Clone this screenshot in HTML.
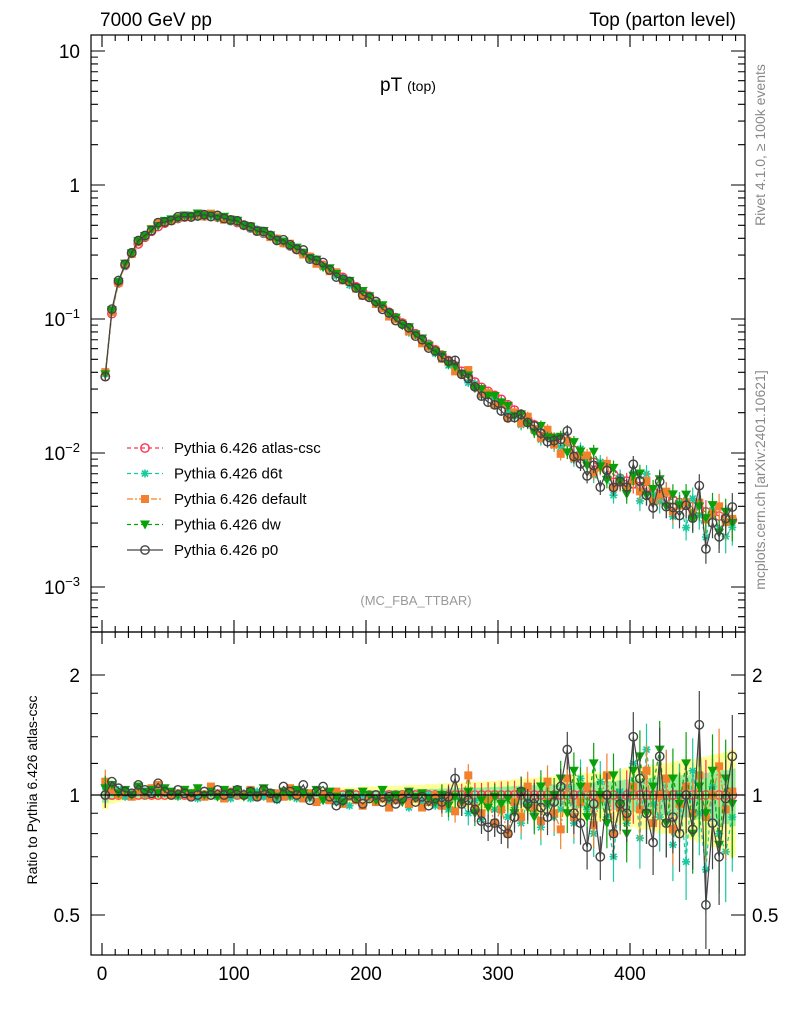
<!DOCTYPE html>
<html><head><meta charset="utf-8">
<style>
body{margin:0;background:#fff;}
svg{display:block;font-family:"Liberation Sans",sans-serif;}
</style></head>
<body>
<svg id="chart" width="786" height="1024" viewBox="0 0 786 1024" xmlns="http://www.w3.org/2000/svg">
<rect x="0" y="0" width="786" height="1024" fill="#fff"/>
<g id="ratioBands"></g>
<g id="series"></g>
<g id="axes"></g>
<text x="100" y="26" font-size="19">7000 GeV pp</text>
<text x="736" y="26" font-size="19" text-anchor="end">Top (parton level)</text>
<text x="380" y="91" font-size="19">pT <tspan font-size="14">(top)</tspan></text>
<text x="416" y="605" font-size="13" fill="#999" text-anchor="middle">(MC_FBA_TTBAR)</text>
<text transform="translate(765,145) rotate(-90)" font-size="14" fill="#888" text-anchor="middle">Rivet 4.1.0, ≥ 100k events</text>
<text transform="translate(765,480) rotate(-90)" font-size="14" fill="#888" text-anchor="middle">mcplots.cern.ch [arXiv:2401.10621]</text>
<text transform="translate(37,790) rotate(-90)" font-size="14" text-anchor="middle">Ratio to Pythia 6.426 atlas-csc</text>
<g id="legend"></g>
</svg>
<script>
const binCenters = [];
for (let i = 0; i < 96; i++) binCenters.push(2.5 + 5 * i);
const refLog = [-1.43,-0.96,-0.73,-0.60,-0.51,-0.44,-0.39,-0.345,-0.31,-0.285,
-0.265,-0.25,-0.24,-0.235,-0.23,-0.23,-0.235,-0.24,-0.25,-0.265,
-0.28,-0.30,-0.32,-0.34,-0.36,-0.38,-0.405,-0.43,-0.455,-0.48,
-0.51,-0.54,-0.57,-0.60,-0.63,-0.66,-0.69,-0.72,-0.76,-0.80,
-0.83,-0.87,-0.91,-0.95,-0.99,-1.03,-1.07,-1.11,-1.15,-1.19,
-1.23,-1.27,-1.31,-1.35,-1.39,-1.43,-1.47,-1.51,-1.54,-1.57,
-1.60,-1.64,-1.68,-1.72,-1.75,-1.79,-1.82,-1.86,-1.89,-1.92,
-1.95,-1.98,-2.01,-2.04,-2.07,-2.10,-2.13,-2.16,-2.19,-2.21,
-2.23,-2.25,-2.27,-2.29,-2.31,-2.33,-2.35,-2.37,-2.39,-2.40,
-2.42,-2.44,-2.45,-2.47,-2.48,-2.50];
const ratioD6t = [1.05,1.02,1.03,0.99,1.01,1.03,1.00,1.02,1.04,1.01,
1.00,0.99,1.02,1.01,0.98,1.00,1.01,0.99,1.02,0.98,
1.00,1.01,0.98,1.02,0.99,1.00,0.97,1.01,0.99,0.98,
1.00,0.98,1.02,0.97,1.00,0.96,0.99,0.94,0.97,1.00,
0.98,0.96,1.00,0.95,0.97,0.99,0.93,0.98,0.96,1.00,
0.94,0.97,0.92,0.99,0.95,0.90,0.97,0.87,0.95,0.92,
0.96,0.88,0.93,0.85,0.97,0.90,0.83,0.95,0.88,0.92,
1.05,0.85,1.10,0.92,0.80,1.08,0.88,0.70,1.02,0.85,
1.20,0.78,1.30,0.95,0.88,1.10,0.75,1.00,0.68,1.15,
0.90,0.65,1.05,0.80,0.72,0.88];
const ratioDefault = [1.08,1.03,1.00,1.02,0.99,1.03,1.01,1.04,1.06,1.02,
1.00,1.01,1.03,1.00,1.02,0.99,1.05,1.01,0.98,1.02,
1.01,1.00,1.03,0.99,1.02,0.98,1.01,0.99,1.04,1.00,
0.98,1.01,0.96,1.00,0.97,1.02,0.95,0.99,0.97,0.94,
0.99,0.96,0.98,0.93,0.97,1.00,0.95,0.98,0.93,0.96,
1.00,0.94,0.98,0.91,0.96,1.12,0.93,0.90,0.97,0.85,
0.92,0.80,0.96,0.88,1.05,0.93,0.86,1.08,0.90,0.82,
1.10,0.88,0.96,1.05,0.84,0.98,1.12,0.80,0.93,0.88,
1.05,0.92,1.15,0.85,1.00,1.10,0.82,0.95,1.05,0.90,
1.12,0.88,1.00,1.18,0.92,1.02];
const ratioDw = [1.04,1.06,1.01,1.03,1.00,1.05,1.02,1.03,1.01,1.04,
1.02,1.00,1.03,1.01,1.04,1.00,1.02,0.99,1.03,1.01,
1.03,0.99,1.02,1.00,1.04,1.01,0.99,1.02,1.00,1.03,
1.01,0.99,1.03,0.97,1.02,0.99,0.96,1.01,0.98,1.02,
1.00,0.97,1.03,0.98,1.00,0.96,1.02,0.99,1.01,0.98,
0.96,1.00,0.94,0.99,0.96,1.02,0.90,0.97,0.93,0.99,
0.95,0.98,0.90,1.02,0.93,0.88,1.05,0.95,1.00,1.10,
0.90,1.15,1.05,0.88,1.20,1.00,0.85,1.12,0.95,0.80,
1.15,1.25,0.90,1.05,1.30,0.85,1.10,0.95,1.20,0.80,
1.05,0.90,1.15,0.75,1.10,0.95];
const ratioP0 = [1.00,1.08,1.04,1.02,1.01,1.06,1.03,1.01,1.07,1.02,
1.00,1.03,1.01,0.99,1.00,1.02,1.00,1.03,1.00,1.01,
1.03,1.00,1.02,0.99,1.03,1.01,0.98,1.05,1.02,1.00,
1.06,0.97,1.02,1.05,0.99,0.94,0.97,1.00,0.98,0.95,
0.98,1.00,0.96,0.99,0.95,0.98,1.01,0.96,0.99,0.94,
0.98,0.96,0.99,1.10,0.95,0.97,0.92,0.86,0.83,0.85,
0.82,0.80,0.88,1.02,0.95,0.98,0.93,0.88,0.96,1.05,
1.30,0.90,0.85,0.74,0.95,0.70,1.00,0.80,0.95,0.90,
1.40,1.10,0.90,0.76,1.25,0.85,0.88,0.80,1.00,0.82,
1.50,0.53,0.85,0.70,0.98,1.25];
const bandHalf = [.08,.05,.04,.03,.03,.03,.03,.03,.03,.03,
.03,.03,.03,.03,.03,.03,.03,.03,.03,.03,
.03,.03,.03,.03,.03,.03,.03,.03,.035,.035,
.035,.035,.04,.04,.04,.04,.045,.045,.045,.05,
.05,.05,.05,.055,.055,.055,.06,.06,.06,.065,
.065,.07,.07,.07,.075,.075,.08,.08,.085,.085,
.09,.09,.095,.10,.10,.105,.11,.11,.115,.12,
.12,.125,.13,.135,.14,.14,.15,.15,.16,.17,
.17,.18,.18,.19,.20,.20,.21,.22,.22,.23,
.24,.25,.26,.27,.28,.30];
const xTicks = [0,100,200,300,400];
const mainTickExps = [1,0,-1,-2,-3];
const ratioTicks = [0.5,1,2];

const NS = "http://www.w3.org/2000/svg";
const L = 91, R = 745, MT = 35, MB = 632, RB = 955;
const xs = v => 102 + 1.32 * v;
const ym = lg => 185 - 134 * lg;
const yr = r => Math.min(RB, Math.max(MB, 795 - 120 * Math.log2(r)));
function mk(tag, attrs, parent) { const e = document.createElementNS(NS, tag); for (const k in attrs) e.setAttribute(k, attrs[k]); parent.appendChild(e); return e; }

const series = [
  {name:"Pythia 6.426 atlas-csc", key:"atlas-csc", color:"#ff3355", marker:"ocircle", dash:"4,3", ratio:null},
  {name:"Pythia 6.426 d6t", key:"d6t", color:"#19c9a0", marker:"star", dash:"4,3", ratio:ratioD6t},
  {name:"Pythia 6.426 default", key:"default", color:"#f3802c", marker:"square", dash:"6,2,2,2", ratio:ratioDefault},
  {name:"Pythia 6.426 dw", key:"dw", color:"#0aa00a", marker:"tri", dash:"4,3", ratio:ratioDw},
  {name:"Pythia 6.426 p0", key:"p0", color:"#444444", marker:"ocircle", dash:"", ratio:ratioP0}
];

function marker(g, type, x, y, c) {
  let e;
  if (type === "ocircle") e = mk("circle", {cx:x, cy:y, r:4.2, fill:"none", stroke:c, "stroke-width":1.4}, g);
  else if (type === "square") e = mk("rect", {x:x-4, y:y-4, width:8, height:8, fill:c}, g);
  else if (type === "tri") e = mk("path", {d:`M${x-5},${y-4}L${x+5},${y-4}L${x},${y+5}Z`, fill:c}, g);
  else { e = mk("path", {d:`M${x-4},${y}H${x+4}M${x},${y-4}V${y+4}M${x-3},${y-3}L${x+3},${y+3}M${x-3},${y+3}L${x+3},${y-3}`, stroke:c, "stroke-width":1.6}, g); }
  
  
}

// ratio bands
const bands = document.getElementById('ratioBands');
let yp = "", gp = "", yb = "", gb = "";
binCenters.forEach((c, i) => {
  const x0 = xs(c - 2.5), x1 = xs(c + 2.5), h = bandHalf[i];
  yp += `M${x0},${yr(1+h)}H${x1}V${yr(1-h)}H${x0}Z`;
  gp += `M${x0},${yr(1+h*0.55)}H${x1}V${yr(1-h*0.55)}H${x0}Z`;
});
const yBand = mk("path", {d:yp, fill:"#ffff99"}, bands);


const gBand = mk("path", {d:gp, fill:"#99ee99"}, bands);



// series
const sg = document.getElementById('series');
series.forEach(s => {
  const g = mk("g", {}, sg);
  
  
  const ptsM = [], ptsR = [];
  binCenters.forEach((c, i) => {
    const r = s.ratio ? s.ratio[i] : 1;
    const lg = refLog[i] + Math.log10(r);
    ptsM.push([xs(c), ym(lg)]);
    ptsR.push([xs(c), yr(r)]);
  });
  const lineM = mk("polyline", {points:ptsM.map(p=>p.join(",")).join(" "), fill:"none", stroke:s.color, "stroke-width":1.2, "stroke-dasharray":s.dash}, g);
  
  
  const lineR = mk("polyline", {points:ptsR.map(p=>p.join(",")).join(" "), fill:"none", stroke:s.color, "stroke-width":1.2, "stroke-dasharray":s.dash}, g);
  
  
  binCenters.forEach((c, i) => {
    const r = s.ratio ? s.ratio[i] : 1;
    const e = bandHalf[i] * 0.9;
    const x = xs(c);
    if (e > 0.06) {
      const eb = mk("path", {d:`M${x},${ym(refLog[i]+Math.log10(r*(1+e)))}V${ym(refLog[i]+Math.log10(r*(1-e)))}M${x},${yr(r*(1+e))}V${yr(r*(1-e))}`, stroke:s.color, "stroke-width":1.2}, g);
      
      
    }
    marker(g, s.marker, ptsM[i][0], ptsM[i][1], s.color);
    marker(g, s.marker, ptsR[i][0], ptsR[i][1], s.color);
  });
});

// axes
const ax = document.getElementById('axes');
const f1 = mk("rect", {x:L, y:MT, width:R-L, height:MB-MT, fill:"none", stroke:"#000", "stroke-width":1.2}, ax);


const f2 = mk("rect", {x:L, y:MB, width:R-L, height:RB-MB, fill:"none", stroke:"#000", "stroke-width":1.2}, ax);


const one = mk("line", {x1:L, x2:R, y1:yr(1), y2:yr(1), stroke:"#000", "stroke-width":1.2}, ax);


let tp = "";
for (let v = -0; v <= 480; v += 10) {
  const x = xs(v), len = v % 100 === 0 ? 12 : 6;
  tp += `M${x},${MB}v${-len}M${x},${MT}v${len}M${x},${RB}v${-len}M${x},${MB}v${len}`;
}
for (let d = -4; d <= 1; d++) for (let m = 1; m <= 9; m++) {
  const y = ym(d + Math.log10(m));
  if (y < MT || y > MB) continue;
  const len = m === 1 ? 14 : 7;
  tp += `M${L},${y}h${len}M${R},${y}h${-len}`;
}
[0.5,0.6,0.7,0.8,0.9,1,1.2,1.4,1.6,1.8,2].forEach(r => {
  const y = yr(r), len = ratioTicks.includes(r) ? 14 : 7;
  tp += `M${L},${y}h${len}M${R},${y}h${-len}`;
});
const ticks = mk("path", {d:tp, stroke:"#000", "stroke-width":1.1, fill:"none"}, ax);


xTicks.forEach(v => {
  const t = mk("text", {x:xs(v), y:980, "font-size":19, "text-anchor":"middle"}, ax);
  t.textContent = v;
  
  
});
mainTickExps.forEach(e => {
  const t = mk("text", {x:80, y:ym(e)+7, "font-size":19, "text-anchor":"end"}, ax);
  if (e === 1) t.textContent = "10";
  else if (e === 0) t.textContent = "1";
  else { t.textContent = "10"; const s = mk("tspan", {dy:-8, "font-size":13}, t); s.textContent = "\u2212" + (-e); }
  
  
});
ratioTicks.forEach(r => {
  [[80,"end"],[752,"start"]].forEach(([x,a]) => {
    const t = mk("text", {x:x, y:yr(r)+7, "font-size":19, "text-anchor":a}, ax);
    t.textContent = r;
    
    
  });
});

// legend
const lg = document.getElementById('legend');
series.forEach((s, i) => {
  const y = 448 + i * 25.5;
  const g = mk("g", {}, lg);
  
  
  mk("line", {x1:127, x2:163, y1:y, y2:y, stroke:s.color, "stroke-width":1.2, "stroke-dasharray":s.dash}, g);
  marker(g, s.marker, 145, y, s.color);
  const t = mk("text", {x:174, y:y+5, "font-size":15}, g);
  t.textContent = s.name;
});
</script>
</body></html>
